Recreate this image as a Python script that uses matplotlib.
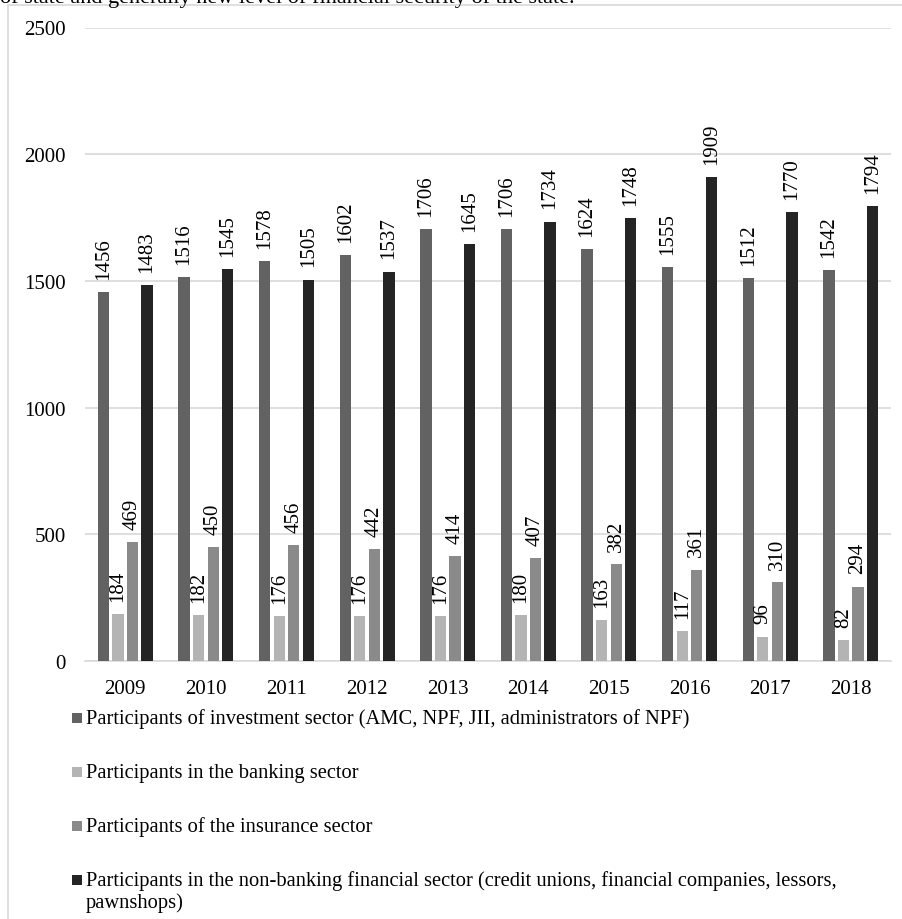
from matplotlib import pyplot as plt
from matplotlib.patches import Rectangle
import numpy as np

years = ['2009', '2010', '2011', '2012', '2013', '2014', '2015', '2016', '2017', '2018']

investment = [1456, 1516, 1578, 1602, 1706, 1706, 1624, 1555, 1512, 1542]
banking = [184, 182, 176, 176, 176, 180, 163, 117, 96, 82]
insurance = [469, 450, 456, 442, 414, 407, 382, 361, 310, 294]
non_banking = [1483, 1545, 1505, 1537, 1645, 1734, 1748, 1909, 1770, 1794]

series_names = [
    'Participants of investment sector (AMC, NPF, JII, administrators of NPF)',
    'Participants in the banking sector',
    'Participants of the insurance sector',
    'Participants in the non-banking financial sector (credit unions, financial companies, lessors,\npawnshops)',
]
colors = ['#626262', '#b4b4b4', '#8a8a8a', '#242424']

plt.rcParams['font.family'] = ['Liberation Serif', 'DejaVu Serif']

W, H = 903, 920
fig = plt.figure(figsize=(W / 100, H / 100), dpi=100)

# cut-off line of the surrounding document text
fig.text(0.0, 1 - 3 / H, 'of state and generally new level of financial security of the state.',
         fontsize=16, va='baseline', ha='left', color='black')

# chart frame
fig.patches.append(Rectangle((8 / W, -0.05), 1.0, 1 - 6 / H + 0.05, transform=fig.transFigure,
                             facecolor='none', edgecolor='#d9d9d9', linewidth=1.2))

ax = fig.add_axes([85 / W, 1 - 662 / H, (891 - 85) / W, (662 - 28.5) / H])

x = np.arange(len(years))
step = 0.18
width = 0.14
all_series = [investment, banking, insurance, non_banking]
for i, vals in enumerate(all_series):
    bars = ax.bar(x + (i - 1.5) * step, vals, width, color=colors[i], label=series_names[i], zorder=3)
    ax.bar_label(bars, labels=[str(v) for v in vals], rotation=90, padding=9.5, fontsize=15)

ax.set_xlim(-0.5, len(years) - 0.5)
ax.set_ylim(0, 2500)
ax.set_yticks(range(0, 2501, 500))
ax.set_xticks(x)
ax.set_xticklabels(years)
ax.tick_params(axis='both', length=0, labelsize=15)
ax.tick_params(axis='y', pad=14)
ax.tick_params(axis='x', pad=13)
ax.grid(axis='y', color='#d9d9d9', linewidth=1.2, zorder=0)
for s in ['top', 'right', 'left']:
    ax.spines[s].set_visible(False)
ax.spines['bottom'].set_color('#d9d9d9')
ax.spines['bottom'].set_linewidth(1.2)

# legend drawn by hand so the marker sits on the first line of a wrapped label
first_baseline = 724
row_step = 54
line_step = 22
for i, name in enumerate(series_names):
    base = first_baseline + i * row_step
    fig.patches.append(Rectangle((72 / W, 1 - base / H), 10.5 / W, 10.5 / H, transform=fig.transFigure,
                                 facecolor=colors[i], edgecolor='none'))
    for k, line in enumerate(name.split('\n')):
        fig.text(86 / W, 1 - (base + k * line_step) / H, line, fontsize=14.8,
                 va='baseline', ha='left')

fig.savefig('out.png', dpi=100)
